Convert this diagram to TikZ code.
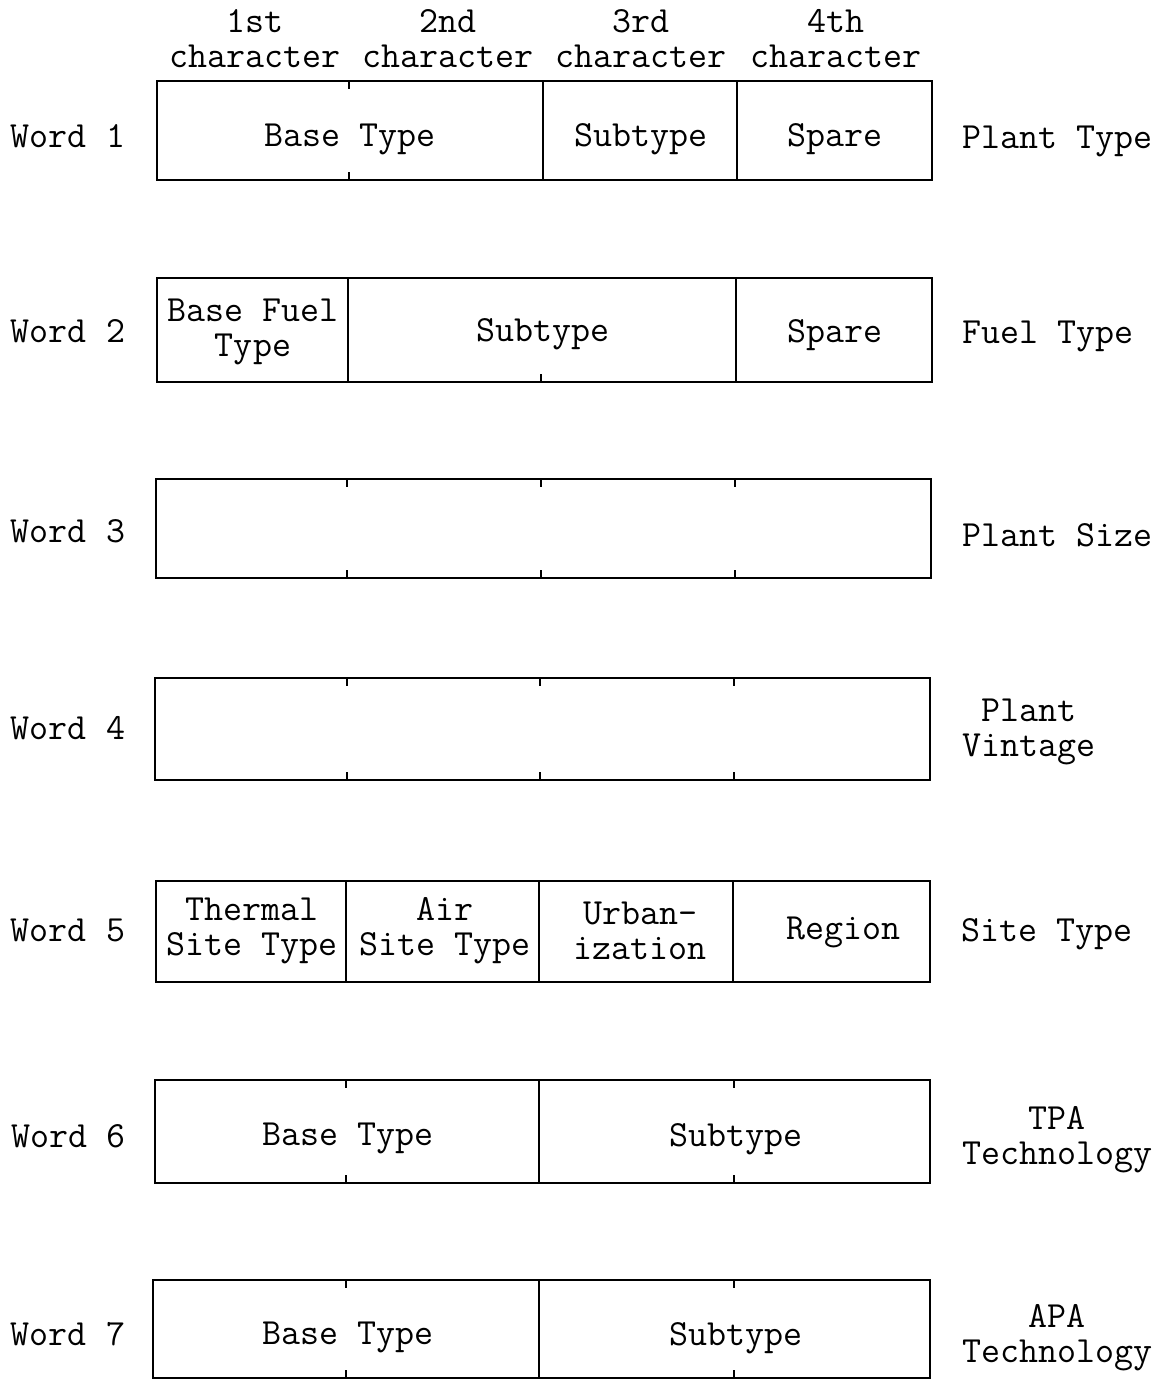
\documentclass[tikz,border=0pt]{standalone}
\usetikzlibrary{positioning}

\begin{document}
\begin{tikzpicture}[x=0.02cm,y=-0.02cm,
    frame/.style={line width=1.4pt},
    lbl/.style={font=\ttfamily\fontsize{21}{20}\selectfont, align=center, inner sep=0pt}]
    \useasboundingbox (0,0) rectangle (1168,1380);

    % character columns
    \node [lbl] (c1) at (255,39) {1st\\character};
    \node [lbl] (c2) at (448,39) {2nd\\character};
    \node [lbl] (c3) at (641,39) {3rd\\character};
    \node [lbl] (c4) at (836,39) {4th\\character};

    % word 1
    \draw [frame] (157,81) rectangle (932,180);
    \draw [frame] (543,81) -- (543,180);
    \draw [frame] (737,81) -- (737,180);
    \draw [frame] (349,81) -- ++(0,8) (349,180) -- ++(0,-8);
    \node [lbl] (w1) at (68,136) {Word 1};
    \node [lbl] (f1a) at (350,139) {Base Type};
    \node [lbl] (f1b) at (641,139) {Subtype};
    \node [lbl] (f1c) at (835,139) {Spare};
    \node [lbl, anchor=west] (d1) at (962,141) {Plant Type};

    % word 2
    \draw [frame] (157,278) rectangle (932,382);
    \draw [frame] (348,278) -- (348,382);
    \draw [frame] (736,278) -- (736,382);
    \draw [frame] (541,382) -- ++(0,-8);
    \node [lbl] (w2) at (68,331) {Word 2};
    \node [lbl] (f2a) at (253,332) {Base Fuel\\Type};
    \node [lbl] (f2b) at (543,334) {Subtype};
    \node [lbl] (f2c) at (835,335) {Spare};
    \node [lbl, anchor=west] (d2) at (962,336) {Fuel Type};

    % words 3 and 4, empty
    \draw [frame] (156,479) rectangle (931,578);
    \foreach \x in {347,541,735}
        \draw [frame] (\x,479) -- ++(0,8) (\x,578) -- ++(0,-8);
    \node [lbl] (w3) at (68,531) {Word 3};
    \node [lbl, anchor=west] (d3) at (962,535) {Plant Size};

    \draw [frame] (155,678) rectangle (930,780);
    \foreach \x in {347,540,734}
        \draw [frame] (\x,678) -- ++(0,8) (\x,780) -- ++(0,-8);
    \node [lbl] (w4) at (68,728) {Word 4};
    \node [lbl] (d4) at (1029,732) {Plant\\Vintage};

    % word 5
    \draw [frame] (156,881) rectangle (930,982);
    \foreach \x in {346,539,733}
        \draw [frame] (\x,881) -- (\x,982);
    \node [lbl] (w5) at (68,930) {Word 5};
    \node [lbl] (f5a) at (252,931) {Thermal\\Site Type};
    \node [lbl] (f5b) at (445,931) {Air\\Site Type};
    \node [lbl] (f5c) at (640,931) {Urban-\\ization};
    \node [lbl] (f5d) at (843,932) {Region};
    \node [lbl, anchor=west] (d5) at (961,934) {Site Type};

    % words 6 and 7
    \draw [frame] (155,1080) rectangle (930,1183);
    \draw [frame] (539,1080) -- (539,1183);
    \foreach \x in {346,734}
        \draw [frame] (\x,1080) -- ++(0,8) (\x,1183) -- ++(0,-8);
    \node [lbl] (w6) at (68,1136) {Word 6};
    \node [lbl] (f6a) at (348,1138) {Base Type};
    \node [lbl] (f6b) at (736,1139) {Subtype};
    \node [lbl] (d6) at (1057,1140) {TPA\\Technology};

    \draw [frame] (153,1280) rectangle (930,1378);
    \draw [frame] (539,1280) -- (539,1378);
    \foreach \x in {346,734}
        \draw [frame] (\x,1280) -- ++(0,8) (\x,1378) -- ++(0,-8);
    \node [lbl] (w7) at (68,1334) {Word 7};
    \node [lbl] (f7a) at (348,1337) {Base Type};
    \node [lbl] (f7b) at (736,1338) {Subtype};
    \node [lbl] (d7) at (1057,1338) {APA\\Technology};
\end{tikzpicture}
\end{document}
